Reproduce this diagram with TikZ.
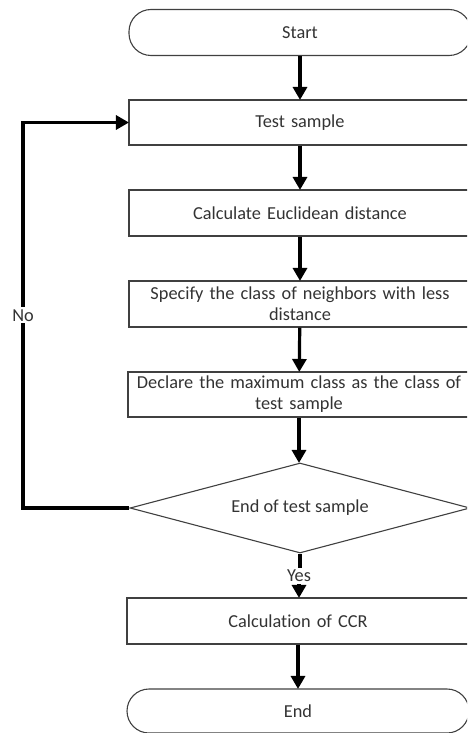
\documentclass[tikz,border=0pt]{standalone}
\usepackage{fontspec}
\setmainfont[Ligatures=NoCommon]{Carlito}
\usetikzlibrary{shapes.geometric,arrows.meta}
\begin{document}
\begin{tikzpicture}[x=1pt,y=1pt,
  font=\fontsize{18.3}{21}\selectfont,
  txt/.style={text=black!80},
  box/.style={draw=black!75,line width=1.1pt,rectangle,minimum width=342pt,inner sep=2pt,align=center,txt,text width=336pt},
  term/.style={draw=black!75,line width=1.1pt,rectangle,rounded corners=22pt,minimum width=342pt,txt},
  dec/.style={draw=black!75,line width=1.1pt,diamond,aspect=3.78,minimum width=340pt,minimum height=90pt,inner sep=0pt,txt},
  conn/.style={line width=3.2pt,black},
  arr/.style={conn,-{Triangle[width=14pt,length=13pt]},shorten >=-0.5pt},
  lab/.style={fill=white,txt,inner sep=0pt}
]
\useasboundingbox (0,0) rectangle (467,-733);
\clip (0,0) rectangle (467,-733);
\node[term,minimum height=46pt] (start) at (300,-32.5) {Start};
\node[box,minimum height=45pt] (test) at (300,-122.5) {Test sample};
\node[box,minimum height=46pt] (eucl) at (300,-213) {Calculate Euclidean distance};
\node[box,minimum height=46pt] (spec) at (300,-304) {Specify the class of neighbors with less\\distance};
\node[box,minimum height=45pt] (decl) at (299,-394.5) {Declare the maximum class as the class of\\test sample};
\node[dec] (end1) at (300,-508) {End of test sample};
\node[box,minimum height=46pt] (ccr) at (298,-621) {Calculation of CCR};
\node[term,minimum height=44pt] (stop) at (298,-711) {End};
\node[txt,inner sep=0pt,outer sep=2.5pt] (yes) at (299,-576) {Yes};
\coordinate (lc) at (23,-508);
\draw[arr] (start) -- (test);
\draw[arr] (test) -- (eucl);
\draw[arr] (eucl) -- (spec);
\draw[arr] (spec) -- (decl);
\draw[arr] (decl.south) -- (decl.south |- end1.north);
\draw[conn] (end1.south) -- (end1.south |- yes.north);
\draw[arr] (yes.south) -- (yes.south |- ccr.north);
\draw[arr] (end1.west) -- (lc) |- node[lab,pos=0.25,inner ysep=2pt]{No} (test.west);
\draw[arr] (ccr) -- (stop);
\end{tikzpicture}
\end{document}
